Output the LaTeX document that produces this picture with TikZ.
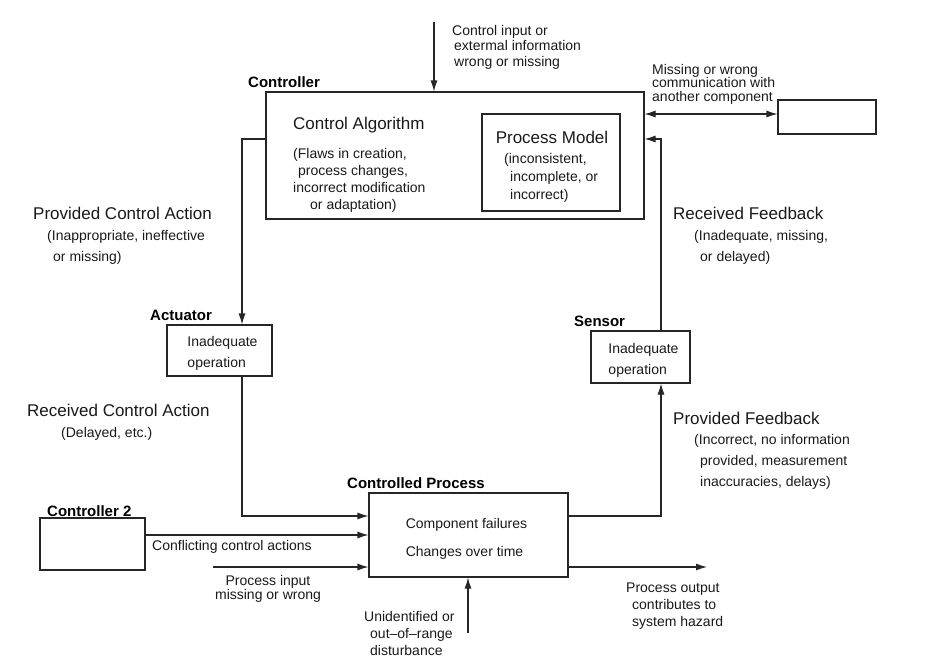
\documentclass[tikz,border=0pt]{standalone}
\usepackage{fontspec}
\setmainfont{Liberation Sans}
\usetikzlibrary{arrows.meta,calc}
\begin{document}
\begin{tikzpicture}[x=1pt,y=-1pt,
  box/.style={draw=black!85, line width=1.1pt, inner sep=0pt, rectangle},
  conn/.style={draw=black!85, line width=1.1pt},
  arr/.style={conn, -{Latex[length=11pt,width=7pt]}},
  biglbl/.style={font=\fontsize{17}{20}\selectfont, inner sep=0pt, anchor=base west, text=black!90},
  smalllbl/.style={inner sep=0pt, anchor=base west, align=left, text=black!90},
  titlelbl/.style={font=\bfseries\fontsize{15}{18}\selectfont, inner sep=0pt, anchor=base west},
  boxtext/.style={font=\fontsize{14}{21}\selectfont, align=left, inner sep=0pt, text=black!90}
]
\useasboundingbox (0,0) rectangle (925,670);

% ---------- boxes ----------
\node[box, minimum width=378pt, minimum height=127pt] (ctrl) at (455,155.5) {};
\node[box, minimum width=138pt, minimum height=97pt] (pm) at (551,162.5) {};
\node[box, minimum width=98pt, minimum height=34pt] (other) at (827,117) {};
\node[box, minimum width=105pt, minimum height=51pt] (act) at (219.5,350.5) {};
\node[box, minimum width=99pt, minimum height=52pt] (sens) at (640.5,357) {};
\node[box, minimum width=199pt, minimum height=84pt] (cp) at (468.5,535) {};
\node[box, minimum width=105pt, minimum height=52pt] (c2) at (92.5,544) {};

% ---------- box texts ----------
\node[boxtext] (actT) at ($(act)+(3,3)$) {Inadequate\\operation};
\node[boxtext] (sensT) at ($(sens)+(3,3)$) {Inadequate\\operation};
\node[boxtext, font=\fontsize{14}{28}\selectfont] (cpT) at ($(cp)+(-2,4)$) {Component failures\\Changes over time};

% ---------- titles ----------
\node[titlelbl] (tctrl) at (248,87) {Controller};
\node[titlelbl] (tact) at (150,320) {Actuator};
\node[titlelbl] (tsens) at (574,326) {Sensor};
\node[titlelbl] (tcp) at (347,488) {Controlled Process};
\node[titlelbl] (tc2) at (47,516) {Controller 2};

% ---------- controller contents ----------
\node[biglbl] (calg) at (293,129) {Control Algorithm};
\node[smalllbl, font=\fontsize{14}{17}\selectfont] (flaws) at (293,209)
  {(Flaws in creation,\\\hspace*{5pt}process changes,\\incorrect modification\\\hspace*{17pt}or adaptation)};
\node[font=\fontsize{17}{20}\selectfont, inner sep=0pt, anchor=base, text=black!90] (pmt) at (552,143) {Process Model};
\node[smalllbl, font=\fontsize{14}{18}\selectfont] (pmd) at (504,199)
  {(inconsistent,\\\hspace*{6pt}incomplete, or\\\hspace*{6pt}incorrect)};

% ---------- other labels ----------
\node[smalllbl, font=\fontsize{14}{15.5}\selectfont] (cin) at (452,66)
  {Control input or\\\hspace*{2pt}extermal information\\\hspace*{2pt}wrong or missing};
\node[smalllbl, font=\fontsize{14}{13.8}\selectfont] (miss) at (652,101.6)
  {Missing or wrong\\communication with\\another component};

\node[biglbl] (pca) at (33,219) {Provided Control Action};
\node[smalllbl, font=\fontsize{14}{21}\selectfont] (pcad) at (47,261)
  {(Inappropriate, ineffective\\\hspace*{6pt}or missing)};
\node[biglbl] (rca) at (27,416) {Received Control Action};
\node[smalllbl, font=\fontsize{14}{21}\selectfont] (rcad) at (61,437) {(Delayed, etc.)};

\node[biglbl] (rfb) at (673,219) {Received Feedback};
\node[smalllbl, font=\fontsize{14}{21}\selectfont] (rfbd) at (694,261)
  {(Inadequate, missing,\\\hspace*{6pt}or delayed)};
\node[biglbl] (pfb) at (673,424) {Provided Feedback};
\node[smalllbl, font=\fontsize{14}{21}\selectfont] (pfbd) at (694,486)
  {(Incorrect, no information\\\hspace*{6pt}provided, measurement\\\hspace*{6pt}inaccuracies, delays)};

\node[smalllbl, font=\fontsize{14}{15}\selectfont] (confl) at (152,550) {Conflicting control actions};
\node[inner sep=0pt, anchor=base, align=center, font=\fontsize{14}{14}\selectfont, text=black!90] (pin) at (268,599)
  {Process input\\missing or wrong};
\node[smalllbl, font=\fontsize{14}{17}\selectfont] (dist) at (364,655)
  {Unidentified or\\\hspace*{6pt}out–of–range\\\hspace*{6pt}disturbance};
\node[smalllbl, font=\fontsize{14}{17}\selectfont] (pout) at (626,626)
  {Process output\\\hspace*{6pt}contributes to\\\hspace*{6pt}system hazard};

% ---------- free ends ----------
\coordinate (cinS) at (434,22);
\coordinate (lcol) at (242,139);
\coordinate (rcol) at (661,139);
\coordinate (pinS) at (213,567);
\coordinate (distS) at (468,633);
\coordinate (poutE) at (707,567);

% ---------- connectors ----------
\draw[arr] (cinS) -- (cinS |- ctrl.north);
\draw[arr] (lcol -| ctrl.west) -- (lcol) -- (lcol |- act.north);
\draw[arr] (lcol |- act.south) |- ($(cp.west)+(0,-19)$);
\draw[arr] (c2.east |- 0,535) -- (cp.west |- 0,535);
\draw[arr] (pinS) -- (pinS -| cp.west);
\draw[arr] (distS) -- (distS |- cp.south);
\draw[arr] (poutE -| cp.east) -- (poutE);
\draw[arr] ($(cp.east)+(0,-19)$) -| (rcol |- sens.south);
\draw[arr] (rcol |- sens.north) -- (rcol) -- (rcol -| ctrl.east);
\draw[conn, {Latex[length=11pt,width=7pt]}-{Latex[length=11pt,width=7pt]}] (ctrl.east |- 0,114) -- (other.west |- 0,114);
\end{tikzpicture}
\end{document}
